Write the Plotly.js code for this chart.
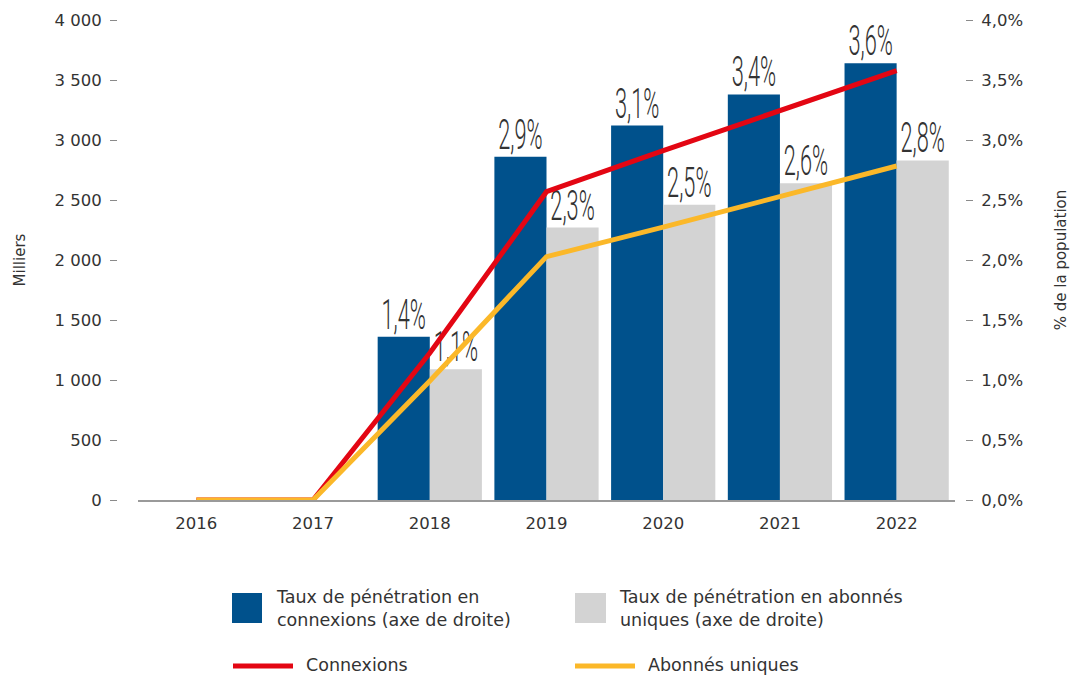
<!DOCTYPE html>
<html><head><meta charset="utf-8">
<script src="https://cdn.plot.ly/plotly-3.0.1.min.js"></script>
<style>html,body{margin:0;padding:0;background:#fff}#chart{width:1070px;height:677px}</style>
</head><body><div id="chart"></div>
<script>
// ---- data ----
const years = ['2016', '2017', '2018', '2019', '2020', '2021', '2022'];
const tauxConnexions = [null, null, 1.36, 2.86, 3.12, 3.38, 3.64];   // % (right axis)
const tauxAbonnes = [null, null, 1.09, 2.27, 2.46, 2.64, 2.83];      // % (right axis)
const connexions = [0, 0, 1225, 2569, 2912, 3243, 3578];             // milliers (left axis)
const abonnes = [0, 0, 992, 2028, 2274, 2528, 2783];                 // milliers (left axis)
const leftTicks = [0, 500, 1000, 1500, 2000, 2500, 3000, 3500, 4000];
const leftTickText = ['0', '500', '1 000', '1 500', '2 000', '2 500', '3 000', '3 500', '4 000'];
const rightTicks = [0, 0.5, 1, 1.5, 2, 2.5, 3, 3.5, 4];
const rightTickText = ['0,0%', '0,5%', '1,0%', '1,5%', '2,0%', '2,5%', '3,0%', '3,5%', '4,0%'];
const seriesNames = [
  'Taux de pénétration en<br>connexions (axe de droite)',
  'Taux de pénétration en abonnés<br>uniques (axe de droite)',
  'Connexions',
  'Abonnés uniques'
];
const colors = ['#00518C', '#D3D3D3', '#E30613', '#FBB829'];

// ---- layout helpers (pixel -> paper) ----
const W = 1070, H = 677, TOP = 20, BOTTOM = 500;
const px = v => v / W;
const py = v => (BOTTOM - v) / (BOTTOM - TOP);

const textColor = '#333333';
const baseFont = 'DejaVu Sans, sans-serif';
const labelFont = 'Roboto, Liberation Sans, sans-serif';
const labelTextFont = {family: labelFont, size: 34, weight: 300, color: '#333333'};

const traces = [
  {type: 'bar', x: years, y: tauxConnexions, name: seriesNames[0], yaxis: 'y',
   marker: {color: colors[0]}, texttemplate: '%{y:.1f}%', textposition: 'outside',
   cliponaxis: false, constraintext: 'none', textfont: labelTextFont, showlegend: false},
  {type: 'bar', x: years, y: tauxAbonnes, name: seriesNames[1], yaxis: 'y',
   marker: {color: colors[1]}, texttemplate: '%{y:.1f}%', textposition: 'outside',
   cliponaxis: false, constraintext: 'none', textfont: labelTextFont, showlegend: false},
  {type: 'scatter', mode: 'lines', x: years, y: connexions, name: seriesNames[2], yaxis: 'y2',
   line: {color: colors[2], width: 5}, showlegend: false},
  {type: 'scatter', mode: 'lines', x: years, y: abonnes, name: seriesNames[3], yaxis: 'y2',
   line: {color: colors[3], width: 5}, showlegend: false}
];

const shapes = [
  {type: 'rect', xref: 'paper', yref: 'paper', x0: px(232), x1: px(262), y0: py(623), y1: py(593),
   fillcolor: colors[0], line: {width: 0}},
  {type: 'rect', xref: 'paper', yref: 'paper', x0: px(575), x1: px(606), y0: py(623), y1: py(593),
   fillcolor: colors[1], line: {width: 0}},
  {type: 'line', xref: 'paper', yref: 'paper', x0: px(233), x1: px(293), y0: py(666), y1: py(666),
   line: {color: colors[2], width: 5}},
  {type: 'line', xref: 'paper', yref: 'paper', x0: px(575), x1: px(635), y0: py(666), y1: py(666),
   line: {color: colors[3], width: 5}}
];

const legFont = {family: baseFont, size: 17.5, color: textColor};
const annotations = [
  {xref: 'paper', yref: 'paper', x: px(274), y: py(608), xanchor: 'left', yanchor: 'middle',
   align: 'left', showarrow: false, text: seriesNames[0], font: legFont},
  {xref: 'paper', yref: 'paper', x: px(617), y: py(608), xanchor: 'left', yanchor: 'middle',
   align: 'left', showarrow: false, text: seriesNames[1], font: legFont},
  {xref: 'paper', yref: 'paper', x: px(304), y: py(665), xanchor: 'left', yanchor: 'middle',
   align: 'left', showarrow: false, text: seriesNames[2], font: legFont},
  {xref: 'paper', yref: 'paper', x: px(646), y: py(665), xanchor: 'left', yanchor: 'middle',
   align: 'left', showarrow: false, text: seriesNames[3], font: legFont}
];

const tickFont = {family: baseFont, size: 16.5, color: textColor};
const layout = {
  width: W, height: H,
  margin: {l: 0, r: 0, t: TOP, b: H - BOTTOM, pad: 0},
  paper_bgcolor: '#ffffff', plot_bgcolor: '#ffffff',
  separators: ', ',
  font: {family: baseFont, color: textColor},
  barmode: 'group', bargap: 0.107, bargroupgap: 0,
  showlegend: false,
  xaxis: {type: 'category', domain: [px(138), px(955)], showline: true, linecolor: '#9a9a9a',
          linewidth: 1.5, ticks: '', showgrid: false, zeroline: false,
          tickfont: tickFont, ticklabelstandoff: 8},
  yaxis: {side: 'right', anchor: 'free', position: px(965), range: [0, 4],
          tickmode: 'array', tickvals: rightTicks, ticktext: rightTickText,
          ticks: 'outside', ticklen: 7, tickcolor: '#8a8a8a', tickwidth: 1,
          showgrid: false, zeroline: false, showline: false, automargin: false,
          tickfont: tickFont, ticklabelstandoff: 5,
          title: {text: '% de la population', standoff: 36,
                  font: {family: baseFont, size: 15, color: textColor}}},
  yaxis2: {side: 'left', overlaying: 'y', anchor: 'free', position: px(117), range: [0, 4000],
           tickmode: 'array', tickvals: leftTicks, ticktext: leftTickText,
           ticks: 'outside', ticklen: 7, tickcolor: '#8a8a8a', tickwidth: 1,
           showgrid: false, zeroline: false, showline: false, automargin: false,
           tickfont: tickFont, ticklabelstandoff: 5,
           title: {text: 'Milliers', standoff: 24,
                   font: {family: baseFont, size: 15, color: textColor}}},
  shapes: shapes,
  annotations: annotations
};

// condensed look for the value labels (narrow, tall type as in the original)
function condenseLabels(gd) {
  gd.querySelectorAll('.barlayer text').forEach(t => {
    const bb = t.getBBox();
    const cx = bb.x + bb.width / 2;
    const cy = bb.y + bb.height;
    const old = t.getAttribute('transform') || '';
    t.setAttribute('transform',
      old + ` translate(0,5) translate(${cx},${cy}) scale(0.64,1.25) translate(${-cx},${-cy})`);
  });
}

Plotly.newPlot('chart', traces, layout, {staticPlot: true, displayModeBar: false})
  .then(condenseLabels);
</script>
</body></html>
